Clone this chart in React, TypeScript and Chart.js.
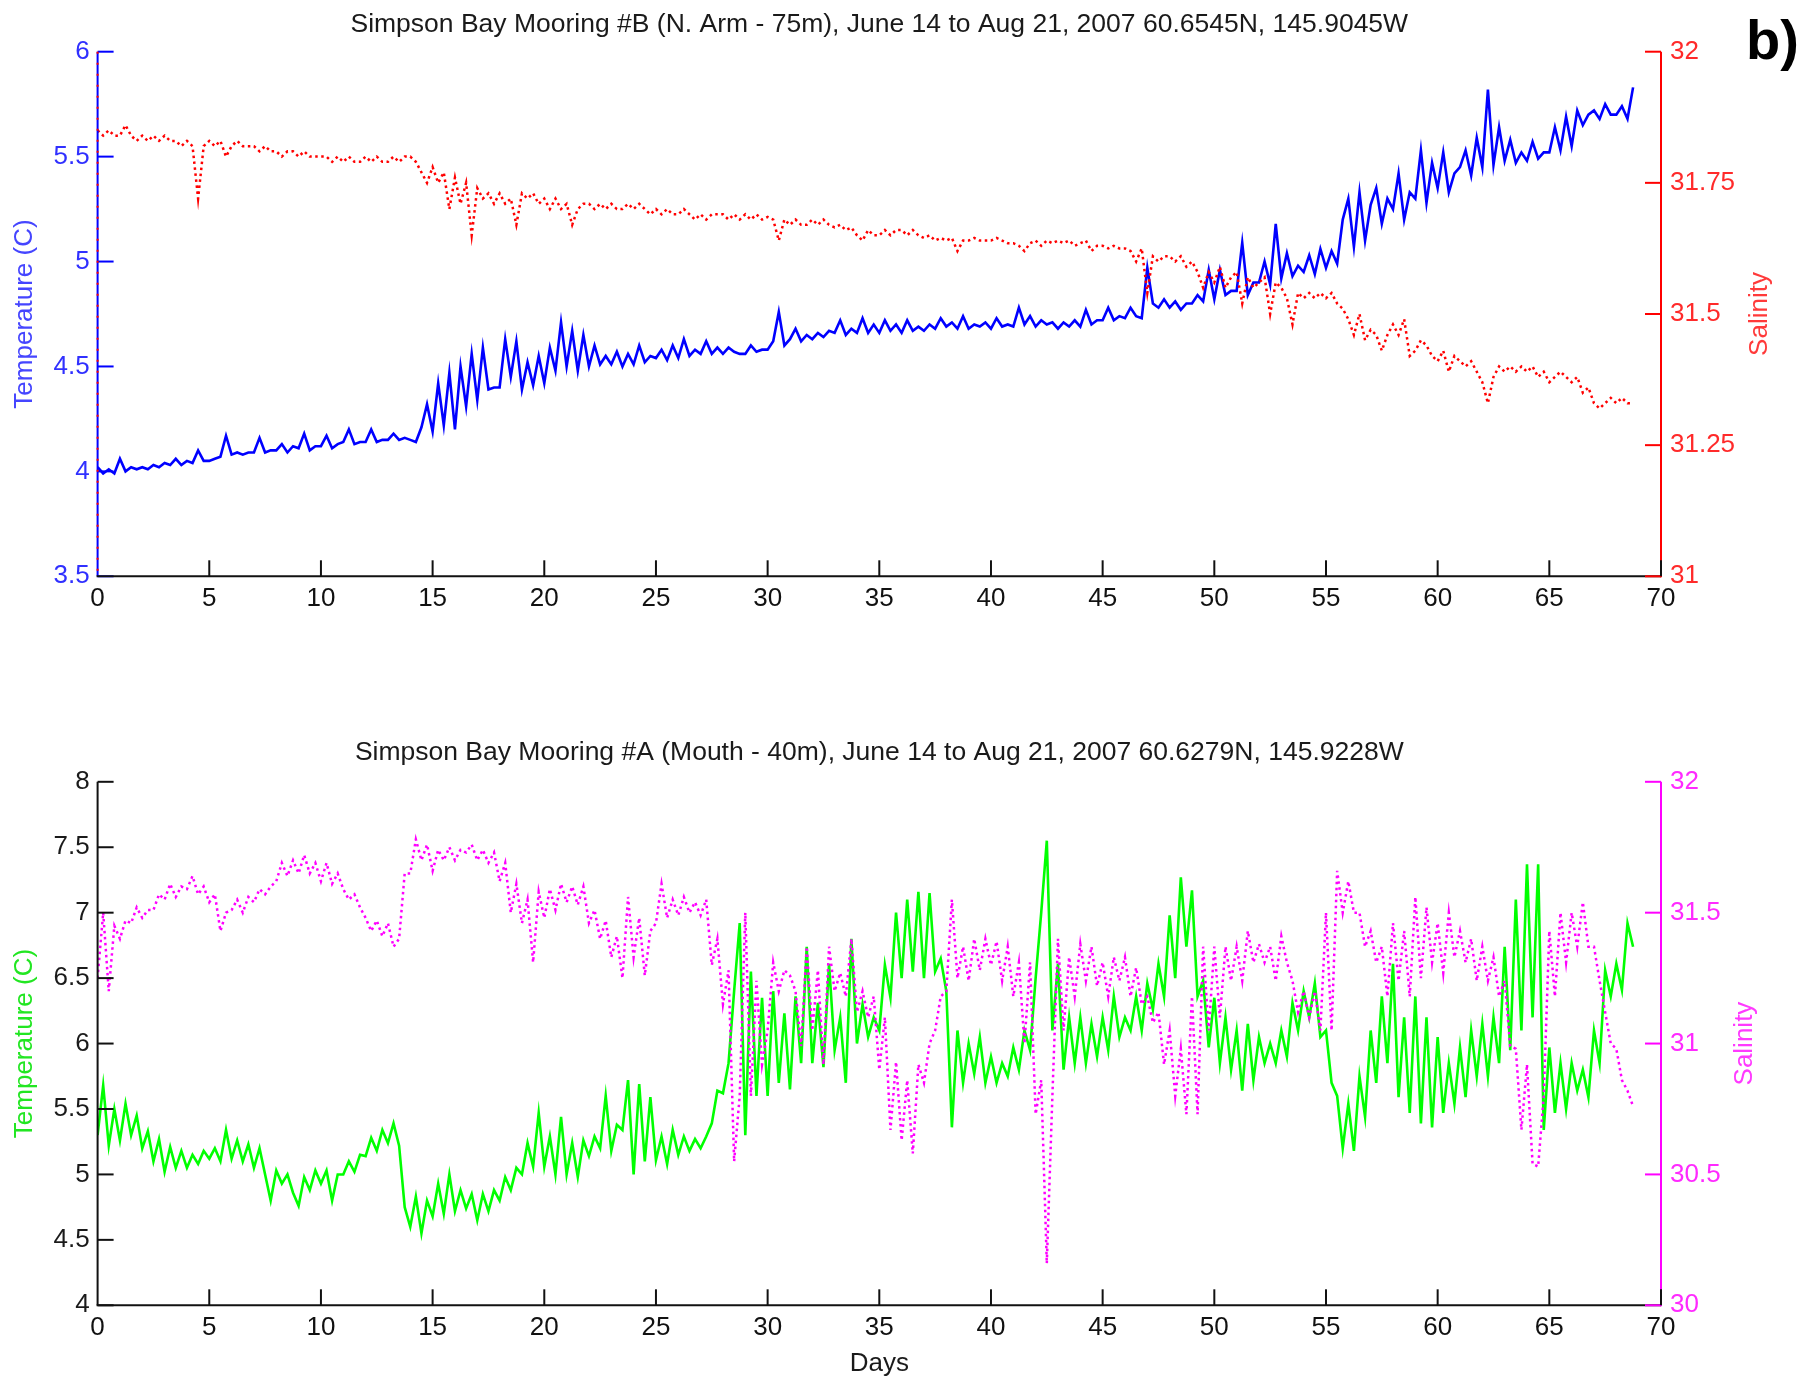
import React, { useEffect, useRef } from "react";
import { Chart, registerables } from "chart.js";

Chart.register(...registerables);

const FONT = '"Liberation Sans", Arial, Helvetica, sans-serif';
const SAMPLE_STEP_DAYS = 0.25;

const dayTicks = [0, 5, 10, 15, 20, 25, 30, 35, 40, 45, 50, 55, 60, 65, 70];
const tempBTicks = [3.5, 4, 4.5, 5, 5.5, 6];
const salBTicks = [31, 31.25, 31.5, 31.75, 32];
const tempATicks = [4, 4.5, 5, 5.5, 6, 6.5, 7, 7.5, 8];
const salATicks = [30, 30.5, 31, 31.5, 32];

const titleB = "Simpson Bay Mooring #B (N. Arm - 75m), June 14 to Aug 21, 2007 60.6545N, 145.9045W";
const titleA = "Simpson Bay Mooring #A (Mouth - 40m), June 14 to Aug 21, 2007 60.6279N, 145.9228W";

// Mooring B (N. Arm - 75m) temperature, 4 samples per day
const tempB = [
  4.02, 3.99, 4.01, 3.99, 4.06, 4.0, 4.02, 4.01, 4.02, 4.01, 4.03, 4.02, 4.04, 4.03, 4.06, 4.03,
  4.05, 4.04, 4.1, 4.05, 4.05, 4.06, 4.07, 4.17, 4.08, 4.09, 4.08, 4.09, 4.09, 4.16, 4.09, 4.1,
  4.1, 4.13, 4.09, 4.12, 4.11, 4.18, 4.1, 4.12, 4.12, 4.17, 4.11, 4.13, 4.14, 4.2, 4.13, 4.14,
  4.14, 4.2, 4.14, 4.15, 4.15, 4.18, 4.15, 4.16, 4.15, 4.14, 4.21, 4.32, 4.19, 4.42, 4.22, 4.47,
  4.2, 4.5, 4.31, 4.56, 4.34, 4.59, 4.39, 4.4, 4.4, 4.63, 4.45, 4.62, 4.39, 4.52, 4.41, 4.55,
  4.42, 4.59, 4.48, 4.71, 4.5, 4.67, 4.48, 4.65, 4.5, 4.6, 4.51, 4.55, 4.51, 4.57, 4.5, 4.56,
  4.51, 4.6, 4.52, 4.55, 4.54, 4.58, 4.53, 4.6, 4.54, 4.63, 4.55, 4.58, 4.56, 4.62, 4.56, 4.59,
  4.56, 4.59, 4.57, 4.56, 4.56, 4.6, 4.57, 4.58, 4.58, 4.62, 4.76, 4.6, 4.63, 4.68, 4.62, 4.65,
  4.63, 4.66, 4.64, 4.67, 4.66, 4.72, 4.65, 4.68, 4.66, 4.73, 4.66, 4.7, 4.66, 4.72, 4.67, 4.7,
  4.66, 4.72, 4.67, 4.69, 4.67, 4.7, 4.68, 4.73, 4.69, 4.71, 4.68, 4.74, 4.68, 4.7, 4.69, 4.71,
  4.68, 4.73, 4.69, 4.7, 4.69, 4.78, 4.7, 4.74, 4.69, 4.72, 4.7, 4.71, 4.68, 4.71, 4.69, 4.72,
  4.69, 4.77, 4.7, 4.72, 4.72, 4.78, 4.72, 4.74, 4.73, 4.78, 4.74, 4.73, 4.97, 4.8, 4.78, 4.82,
  4.78, 4.81, 4.77, 4.8, 4.8, 4.84, 4.81, 4.96, 4.82, 4.96, 4.84, 4.86, 4.86, 5.09, 4.84, 4.9,
  4.9, 5.0, 4.89, 5.18, 4.92, 5.04, 4.93, 4.98, 4.95, 5.03, 4.94, 5.06, 4.97, 5.05, 4.99, 5.2,
  5.3, 5.07, 5.33, 5.1, 5.27, 5.35, 5.18, 5.3, 5.25, 5.42, 5.2, 5.33, 5.3, 5.53, 5.28, 5.47,
  5.35, 5.52, 5.33, 5.42, 5.45, 5.53, 5.41, 5.59, 5.45, 5.82, 5.46, 5.64, 5.48, 5.58, 5.47, 5.52,
  5.48, 5.57, 5.49, 5.52, 5.52, 5.64, 5.53, 5.69, 5.55, 5.72, 5.65, 5.7, 5.72, 5.68, 5.75, 5.7,
  5.7, 5.74, 5.68, 5.83,
];

// Mooring B salinity
const salB = [
  31.85, 31.84, 31.85, 31.84, 31.84, 31.86, 31.84, 31.83, 31.84, 31.83, 31.84, 31.83, 31.84, 31.83, 31.83, 31.82,
  31.83, 31.82, 31.72, 31.82, 31.83, 31.82, 31.83, 31.8, 31.82, 31.83, 31.82, 31.82, 31.82, 31.81, 31.82, 31.81,
  31.81, 31.8, 31.81, 31.81, 31.8, 31.81, 31.8, 31.8, 31.8, 31.8, 31.79, 31.8, 31.79, 31.8, 31.79, 31.79,
  31.8, 31.79, 31.8, 31.79, 31.79, 31.8, 31.79, 31.8, 31.8, 31.79, 31.77, 31.75, 31.78, 31.75, 31.77, 31.7,
  31.76, 31.71, 31.75, 31.65, 31.74, 31.72, 31.73, 31.71, 31.73, 31.71, 31.72, 31.67, 31.73, 31.72, 31.73, 31.71,
  31.72, 31.7, 31.72, 31.7, 31.71, 31.67, 31.7, 31.71, 31.71, 31.7, 31.71, 31.7, 31.71, 31.7, 31.7, 31.71,
  31.7, 31.71, 31.7, 31.69, 31.7, 31.69, 31.7, 31.69, 31.69, 31.7, 31.69, 31.68, 31.69, 31.68, 31.69, 31.69,
  31.69, 31.68, 31.69, 31.68, 31.69, 31.68, 31.69, 31.68, 31.685, 31.68, 31.64, 31.68, 31.67, 31.68, 31.67, 31.67,
  31.68, 31.67, 31.68, 31.67, 31.665, 31.67, 31.66, 31.665, 31.65, 31.64, 31.66, 31.65, 31.65, 31.66, 31.65, 31.66,
  31.66, 31.65, 31.66, 31.65, 31.645, 31.65, 31.64, 31.645, 31.64, 31.645, 31.62, 31.64, 31.64, 31.645, 31.64, 31.64,
  31.64, 31.645, 31.64, 31.635, 31.635, 31.63, 31.62, 31.635, 31.64, 31.63, 31.64, 31.635, 31.64, 31.635, 31.64, 31.63,
  31.635, 31.64, 31.62, 31.63, 31.63, 31.625, 31.63, 31.625, 31.625, 31.62, 31.6, 31.625, 31.54, 31.61, 31.6, 31.61,
  31.61, 31.6, 31.61, 31.59, 31.6, 31.58, 31.55, 31.58, 31.56, 31.59, 31.55, 31.57, 31.58, 31.52, 31.57, 31.55,
  31.56, 31.57, 31.5, 31.56, 31.55, 31.53, 31.48, 31.54, 31.53, 31.54, 31.53, 31.54, 31.53, 31.54, 31.52, 31.51,
  31.49, 31.46, 31.5, 31.45, 31.47, 31.46, 31.43, 31.46, 31.48, 31.46, 31.49, 31.42, 31.43, 31.45, 31.44, 31.42,
  31.41, 31.43, 31.39, 31.42, 31.41, 31.4, 31.41, 31.39, 31.37, 31.33, 31.38, 31.4, 31.39, 31.4, 31.39, 31.4,
  31.39, 31.4, 31.38, 31.39, 31.37, 31.38, 31.39, 31.38, 31.37, 31.38, 31.35, 31.36, 31.33, 31.32, 31.33, 31.34,
  31.33, 31.34, 31.33, 31.33,
];

// Mooring A (Mouth - 40m) temperature
const tempA = [
  5.3, 5.68, 5.22, 5.5, 5.26, 5.54, 5.3, 5.45, 5.2, 5.33, 5.1, 5.27, 5.02, 5.21, 5.05, 5.18,
  5.05, 5.15, 5.08, 5.18, 5.12, 5.2, 5.1, 5.34, 5.12, 5.26, 5.1, 5.23, 5.05, 5.2, 5.0, 4.8,
  5.03, 4.93, 5.0, 4.86, 4.76, 4.98, 4.88, 5.03, 4.93, 5.03, 4.8, 5.0, 5.0, 5.1, 5.02, 5.15,
  5.14, 5.28, 5.18, 5.34, 5.24, 5.39, 5.22, 4.75, 4.6, 4.83, 4.55, 4.8, 4.68, 4.93, 4.7, 5.0,
  4.72, 4.88, 4.74, 4.85, 4.65, 4.85, 4.72, 4.88, 4.8, 4.98, 4.88, 5.05, 5.0, 5.24, 5.06, 5.47,
  5.06, 5.29, 5.0, 5.44, 5.0, 5.24, 4.98, 5.26, 5.14, 5.29, 5.2, 5.6, 5.18, 5.38, 5.34, 5.72,
  5.0, 5.69, 5.1, 5.59, 5.11, 5.29, 5.08, 5.34, 5.15, 5.29, 5.18, 5.27, 5.2, 5.29, 5.39, 5.64,
  5.62, 5.85, 6.4, 6.92, 5.3, 6.55, 5.6, 6.35, 5.6, 6.4, 5.7, 6.23, 5.65, 6.36, 5.85, 6.74,
  5.85, 6.31, 5.82, 6.61, 5.95, 6.2, 5.7, 6.8, 6.0, 6.3, 6.05, 6.2, 6.1, 6.6, 6.35, 7.0,
  6.5, 7.1, 6.55, 7.16, 6.5, 7.15, 6.55, 6.65, 6.4, 5.36, 6.1, 5.7, 6.0, 5.77, 6.05, 5.7,
  5.9, 5.7, 5.85, 5.75, 5.97, 5.8, 6.1, 5.95, 6.5, 7.0, 7.55, 6.1, 6.61, 5.8, 6.2, 5.85,
  6.2, 5.85, 6.15, 5.9, 6.2, 5.95, 6.36, 6.05, 6.2, 6.1, 6.36, 6.1, 6.46, 6.26, 6.61, 6.36,
  6.98, 6.5, 7.27, 6.74, 7.17, 6.36, 6.48, 5.97, 6.35, 5.85, 6.2, 5.8, 6.1, 5.64, 6.15, 5.72,
  6.05, 5.85, 6.0, 5.85, 6.1, 5.9, 6.31, 6.1, 6.4, 6.2, 6.46, 6.05, 6.1, 5.7, 5.6, 5.2,
  5.54, 5.18, 5.75, 5.44, 6.1, 5.7, 6.36, 5.85, 6.61, 5.59, 6.2, 5.47, 6.36, 5.39, 6.2, 5.36,
  6.05, 5.47, 5.85, 5.54, 5.97, 5.59, 6.1, 5.75, 6.15, 5.75, 6.2, 5.85, 6.74, 5.95, 7.1, 6.1,
  7.37, 6.2, 7.37, 5.34, 5.97, 5.47, 5.85, 5.5, 5.85, 5.64, 5.8, 5.59, 6.1, 5.85, 6.56, 6.36,
  6.61, 6.41, 6.92, 6.74,
];

// Mooring A salinity
const salA = [
  31.25, 31.5, 31.2, 31.45, 31.4, 31.47, 31.46, 31.52, 31.48, 31.51, 31.51, 31.57, 31.55, 31.61, 31.56, 31.6,
  31.59, 31.64, 31.57, 31.6, 31.54, 31.57, 31.43, 31.5, 31.51, 31.55, 31.5, 31.56, 31.54, 31.59, 31.57, 31.6,
  31.62, 31.69, 31.64, 31.7, 31.65, 31.72, 31.65, 31.69, 31.62, 31.69, 31.61, 31.65, 31.59, 31.55, 31.57, 31.52,
  31.48, 31.43, 31.47, 31.41, 31.46, 31.37, 31.4, 31.65, 31.65, 31.78, 31.7, 31.76, 31.66, 31.74, 31.7, 31.75,
  31.7, 31.74, 31.73, 31.76, 31.7, 31.74, 31.69, 31.73, 31.62, 31.69, 31.5, 31.61, 31.46, 31.55, 31.31, 31.58,
  31.48, 31.59, 31.51, 31.61, 31.54, 31.6, 31.53, 31.6, 31.46, 31.51, 31.4, 31.47, 31.33, 31.41, 31.25, 31.56,
  31.33, 31.48, 31.26, 31.43, 31.46, 31.61, 31.48, 31.55, 31.49, 31.56, 31.5, 31.54, 31.49, 31.55, 31.3, 31.4,
  31.15, 31.28, 30.55, 30.8, 31.5, 30.8, 31.24, 30.92, 31.05, 31.31, 31.2, 31.28, 31.26, 31.2, 30.99, 31.37,
  31.05, 31.28, 30.92, 31.37, 31.2, 31.27, 31.18, 31.4, 31.12, 31.2, 31.1, 31.18, 30.9, 31.1, 30.67, 30.93,
  30.63, 30.86, 30.58, 30.92, 30.85, 31.0, 31.05, 31.18, 31.2, 31.55, 31.25, 31.37, 31.24, 31.4, 31.28, 31.4,
  31.3, 31.39, 31.24, 31.37, 31.18, 31.31, 31.0, 31.31, 30.73, 30.86, 30.16, 30.8, 31.4, 31.05, 31.33, 31.18,
  31.38, 31.24, 31.37, 31.22, 31.31, 31.18, 31.33, 31.24, 31.33, 31.18, 31.29, 31.15, 31.18, 31.08, 31.12, 30.92,
  31.05, 30.8, 30.98, 30.73, 31.18, 30.73, 31.37, 31.05, 31.37, 31.1, 31.37, 31.24, 31.37, 31.24, 31.43, 31.31,
  31.38, 31.31, 31.37, 31.24, 31.41, 31.31, 31.24, 31.12, 31.2, 31.1, 31.2, 31.05, 31.5, 31.05, 31.66, 31.5,
  31.62, 31.5, 31.5, 31.37, 31.43, 31.31, 31.37, 31.18, 31.46, 31.24, 31.43, 31.18, 31.56, 31.25, 31.52, 31.31,
  31.46, 31.27, 31.5, 31.33, 31.43, 31.31, 31.4, 31.24, 31.37, 31.24, 31.33, 31.18, 31.24, 30.99, 30.98, 30.67,
  30.92, 30.54, 30.53, 30.8, 31.43, 31.18, 31.5, 31.31, 31.5, 31.37, 31.54, 31.37, 31.37, 31.24, 31.12, 31.0,
  30.98, 30.86, 30.82, 30.76,
];

const W = 1800;
const PLOT_LEFT = 97.6;
const PLOT_RIGHT = 1661;

type Spec = {
  key: string;
  top: number;
  height: number;
  plotTop: number;
  plotBottom: number;
  title: string;
  titleBaseline: number;
  temp: number[];
  sal: number[];
  tempMin: number;
  tempMax: number;
  salMin: number;
  salMax: number;
  tempTicks: number[];
  salTicks: number[];
  tempLine: string;
  salLine: string;
  leftAxisColor: string;
  leftOverlay?: string;
  leftTickText: string;
  rightTickText: string;
  leftLabelColor: string;
  rightLabelColor: string;
  rightLabelX: number;
  showB: boolean;
  showDays: boolean;
  daysBaseline: number;
};

const fmt = (v: any) => String(Math.round(Number(v) * 100) / 100);
const toPoints = (arr: number[]) => arr.map((v, i) => ({ x: i * SAMPLE_STEP_DAYS, y: v }));

function decor(spec: Spec) {
  return {
    id: "decor_" + spec.key,
    afterDraw(chart: any) {
      const { ctx, chartArea: a, scales } = chart;
      const xs = scales.x;
      const yl = scales.y;
      const yr = scales.y2;
      const TL = 16;
      const seg = (x1: number, y1: number, x2: number, y2: number, color: string, dash?: number[]) => {
        ctx.save();
        ctx.strokeStyle = color;
        ctx.lineWidth = 2;
        ctx.setLineDash(dash || []);
        ctx.beginPath();
        ctx.moveTo(x1, y1);
        ctx.lineTo(x2, y2);
        ctx.stroke();
        ctx.restore();
      };
      ctx.save();
      for (const v of spec.tempTicks) {
        const p = yl.getPixelForValue(v);
        seg(a.left, p, a.left + TL, p, spec.leftAxisColor);
      }
      seg(a.left, a.top, a.left, a.bottom, spec.leftAxisColor);
      if (spec.leftOverlay) seg(a.left, a.top, a.left, a.bottom, spec.leftOverlay, [2, 9]);
      seg(a.left - 1, a.bottom, a.right, a.bottom, "#111");
      for (const v of spec.salTicks) {
        const p = yr.getPixelForValue(v);
        seg(a.right - TL, p, a.right, p, spec.salLine);
      }
      seg(a.right, a.top, a.right, a.bottom + 1, spec.salLine);
      for (const v of dayTicks) {
        if (v === 0) continue;
        const p = xs.getPixelForValue(v);
        seg(p, a.bottom, p, a.bottom - TL, "#111");
      }

      ctx.fillStyle = "#1a1a1a";
      ctx.font = `26.5px ${FONT}`;
      ctx.textAlign = "center";
      ctx.textBaseline = "alphabetic";
      ctx.fillText(spec.title, (a.left + a.right) / 2, spec.titleBaseline);

      ctx.font = `26px ${FONT}`;
      if (spec.showDays) {
        ctx.fillText("Days", (a.left + a.right) / 2, spec.daysBaseline);
      }

      const midY = (a.top + a.bottom) / 2;
      ctx.save();
      ctx.translate(25, midY);
      ctx.rotate(-Math.PI / 2);
      ctx.textBaseline = "middle";
      ctx.fillStyle = spec.leftLabelColor;
      ctx.fillText("Temperature (C)", 0, 0);
      ctx.restore();

      ctx.save();
      ctx.translate(spec.rightLabelX, midY);
      ctx.rotate(-Math.PI / 2);
      ctx.textBaseline = "middle";
      ctx.fillStyle = spec.rightLabelColor;
      ctx.fillText("Salinity", 0, 0);
      ctx.restore();

      if (spec.showB) {
        ctx.fillStyle = "#000";
        ctx.font = `bold 56px ${FONT}`;
        ctx.textAlign = "left";
        ctx.textBaseline = "alphabetic";
        ctx.fillText("b)", 1746, 59);
      }
      ctx.restore();
    },
  };
}

function Panel({ spec }: { spec: Spec }) {
  const ref = useRef<HTMLCanvasElement>(null);
  useEffect(() => {
    const canvas = ref.current!;
    const tickFont = { size: 26, family: FONT };
    const chart = new Chart(canvas, {
      type: "line",
      data: {
        datasets: [
          {
            label: "Salinity",
            data: toPoints(spec.sal),
            yAxisID: "y2",
            borderColor: spec.salLine,
            borderWidth: 2.5,
            borderDash: [2.5, 3.5],
            pointRadius: 0,
            tension: 0,
            fill: false,
          },
          {
            label: "Temperature (C)",
            data: toPoints(spec.temp),
            yAxisID: "y",
            borderColor: spec.tempLine,
            borderWidth: 2.6,
            pointRadius: 0,
            tension: 0,
            fill: false,
          },
        ],
      },
      options: {
        animation: false,
        responsive: false,
        devicePixelRatio: 1,
        parsing: true,
        layout: { padding: { top: spec.plotTop, left: 0, right: 0, bottom: 0 } },
        plugins: { legend: { display: false }, tooltip: { enabled: false }, title: { display: false } },
        scales: {
          x: {
            type: "linear",
            min: 0,
            max: 70,
            afterBuildTicks: (s: any) => {
              s.ticks = dayTicks.map((v) => ({ value: v }));
            },
            afterFit: (s: any) => {
              s.height = spec.height - spec.plotBottom;
            },
            grid: { display: false, drawTicks: false },
            border: { display: false },
            ticks: { color: "#111", font: tickFont, padding: 7, maxRotation: 0, autoSkip: false, callback: fmt },
          },
          y: {
            type: "linear",
            position: "left",
            min: spec.tempMin,
            max: spec.tempMax,
            afterBuildTicks: (s: any) => {
              s.ticks = spec.tempTicks.map((v) => ({ value: v }));
            },
            afterFit: (s: any) => {
              s.width = PLOT_LEFT;
            },
            grid: { display: false, drawTicks: false },
            border: { display: false },
            ticks: { color: spec.leftTickText, font: tickFont, padding: 8, autoSkip: false, callback: fmt },
          },
          y2: {
            type: "linear",
            position: "right",
            min: spec.salMin,
            max: spec.salMax,
            afterBuildTicks: (s: any) => {
              s.ticks = spec.salTicks.map((v) => ({ value: v }));
            },
            afterFit: (s: any) => {
              s.width = W - PLOT_RIGHT;
            },
            grid: { display: false, drawTicks: false },
            border: { display: false },
            ticks: { color: spec.rightTickText, font: tickFont, padding: 9, autoSkip: false, callback: fmt },
          },
        },
      },
      plugins: [decor(spec)],
    } as any);
    return () => chart.destroy();
  }, [spec]);
  return (
    <canvas
      ref={ref}
      width={W}
      height={spec.height}
      style={{ position: "absolute", left: 0, top: spec.top, width: W, height: spec.height, display: "block" }}
    />
  );
}

const specB: Spec = {
  key: "B",
  top: 0,
  height: 680,
  plotTop: 51.7,
  plotBottom: 576.3,
  title: titleB,
  titleBaseline: 32,
  temp: tempB,
  sal: salB,
  tempMin: 3.5,
  tempMax: 6,
  salMin: 31,
  salMax: 32,
  tempTicks: tempBTicks,
  salTicks: salBTicks,
  tempLine: "#0000ff",
  salLine: "#ff0000",
  leftAxisColor: "#0000ff",
  leftOverlay: "#ff0000",
  leftTickText: "#3030ff",
  rightTickText: "#ff2a2a",
  leftLabelColor: "#4545ff",
  rightLabelColor: "#ff3a3a",
  rightLabelX: 1760,
  showB: true,
  showDays: false,
  daysBaseline: 0,
};

const specA: Spec = {
  key: "A",
  top: 680,
  height: 697,
  plotTop: 101.8,
  plotBottom: 625.3,
  title: titleA,
  titleBaseline: 80,
  temp: tempA,
  sal: salA,
  tempMin: 4,
  tempMax: 8,
  salMin: 30,
  salMax: 32,
  tempTicks: tempATicks,
  salTicks: salATicks,
  tempLine: "#00ff00",
  salLine: "#ff00ff",
  leftAxisColor: "#111111",
  leftTickText: "#1a1a1a",
  rightTickText: "#ff2aff",
  leftLabelColor: "#22e622",
  rightLabelColor: "#ff3aff",
  rightLabelX: 1745,
  showB: false,
  showDays: true,
  daysBaseline: 691,
};

export default function App() {
  useEffect(() => {
    document.body.style.margin = "0";
    document.body.style.overflow = "hidden";
  }, []);
  return (
    <div style={{ position: "absolute", left: 0, top: 0, width: W, height: 1377, background: "#fff", overflow: "hidden" }}>
      <Panel spec={specB} />
      <Panel spec={specA} />
    </div>
  );
}
